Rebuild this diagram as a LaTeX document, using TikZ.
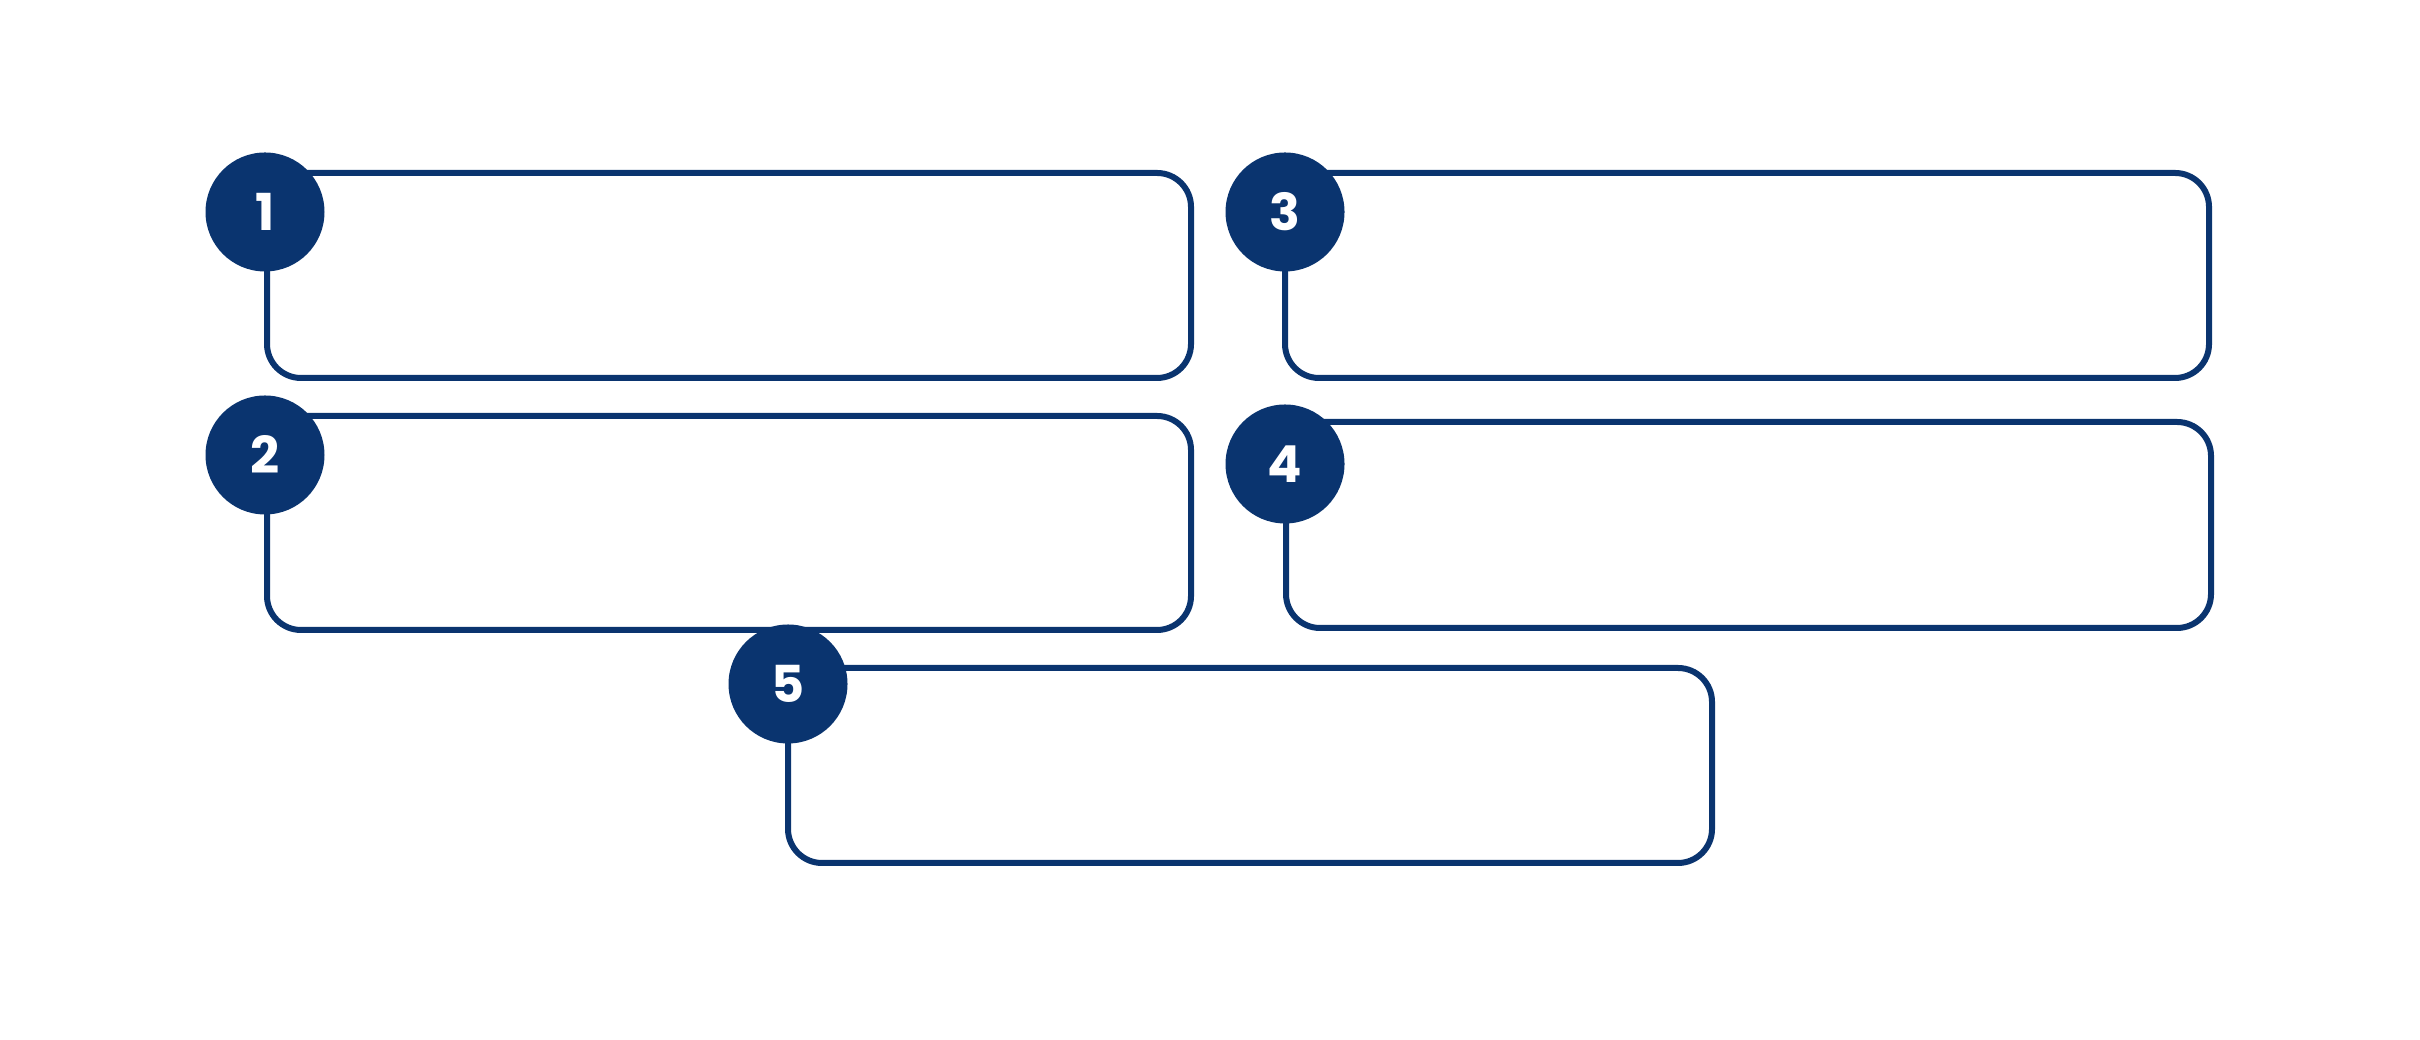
\documentclass[tikz,border=0pt]{standalone}
\usepackage{fontspec}
\setmainfont{Poppins}
\usetikzlibrary{shapes, positioning, calc}
\definecolor{navy}{HTML}{0A346F}
\colorlet{drawColor}{navy}
\tikzstyle{fBox}=[rectangle, rounded corners=3.4mm, draw=drawColor, line width=0.6mm,
  minimum width=9.24cm, anchor=north west, outer sep=0pt, fill=white]
\tikzstyle{fBadge}=[circle, fill=drawColor, text=white, minimum size=1.19cm, inner sep=0pt,
  font=\fontsize{14.5pt}{17pt}\selectfont\bfseries]

\begin{document}
\begin{tikzpicture}
  \useasboundingbox (0,0) rectangle (24.2,10.4);
  % boxes
  \node (box1) [fBox, minimum height=2.05cm] at (2.67,8.67) {};
  \node (box2) [fBox, minimum height=2.14cm] at (2.67,6.24) {};
  \node (box3) [fBox, minimum height=2.05cm] at (12.85,8.67) {};
  \node (box4) [fBox, minimum height=2.06cm, minimum width=9.25cm] at (12.86,6.18) {};
  \node (box5) [fBox, minimum height=1.95cm] at (7.88,3.72) {};
  % badges
  \node (badge1) [fBadge] at ([xshift=-0.02cm, yshift=-0.39cm]box1.north west) {1};
  \node (badge2) [fBadge] at ([xshift=-0.02cm, yshift=-0.39cm]box2.north west) {2};
  \node (badge3) [fBadge] at ([yshift=-0.39cm]box3.north west) {3};
  \node (badge4) [fBadge] at ([xshift=-0.01cm, yshift=-0.42cm]box4.north west) {4};
  \node (badge5) [fBadge] at ([yshift=-0.16cm]box5.north west) {5};
\end{tikzpicture}
\end{document}
